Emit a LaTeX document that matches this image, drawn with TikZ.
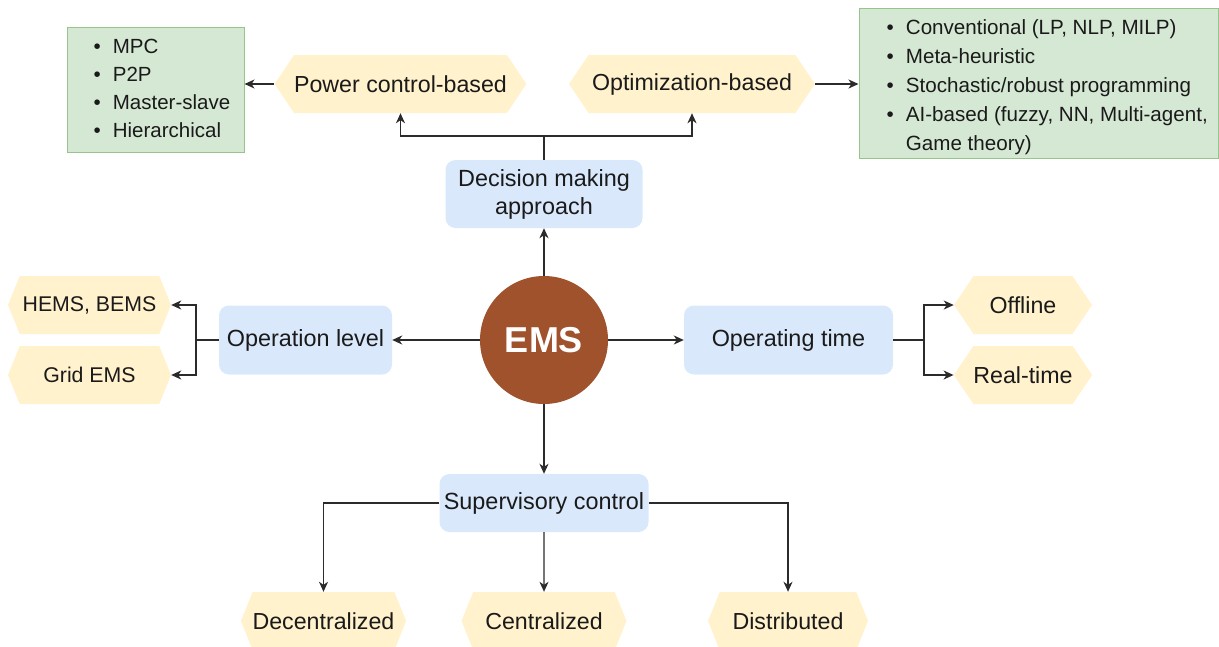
\documentclass[tikz,border=0pt]{standalone}
\usepackage{fontspec}
\setmainfont{Liberation Sans}
\usetikzlibrary{shapes.symbols,arrows.meta}
\definecolor{hexfill}{HTML}{FFF2CC}
\definecolor{boxfill}{HTML}{DAE8FC}
\definecolor{listfill}{HTML}{D5E8D4}
\definecolor{listline}{HTML}{97C48A}
\definecolor{emsfill}{HTML}{A0522D}
\definecolor{ink}{HTML}{1A1A1A}
\definecolor{wiregray}{HTML}{2B2B2B}
\tikzset{
  hexa/.style={signal,signal to=west and east,signal pointer angle=112,fill=hexfill,
    minimum height=58pt,inner sep=0pt,text=ink,font=\fontsize{23.2}{27}\selectfont},
  tighthexa/.style={hexa,signal pointer angle=136},
  cat/.style={rectangle,rounded corners=10pt,fill=boxfill,inner sep=0pt,text=ink,
    align=center,font=\fontsize{23.4}{28}\selectfont},
  listbox/.style={rectangle,fill=listfill,draw=listline,line width=1pt,inner sep=0pt},
  listtext/.style={anchor=west,inner sep=0pt,text=ink},
  wire/.style={draw=wiregray,line width=1.4pt},
  arr/.style={wire,-{Stealth[length=10pt,width=9pt,inset=3pt]}}
}
\begin{document}
\begin{tikzpicture}[x=1pt,y=-1pt]
\useasboundingbox (0,0) rectangle (1219,646);
\node[circle,fill=emsfill,minimum size=128pt,inner sep=0pt,text=white,font=\fontsize{36}{40}\selectfont\bfseries] (ems) at (544,340) {EMS};
\node[cat,minimum width=197pt,minimum height=68pt] (decision) at (544,194) {Decision making\\approach};
\node[cat,minimum width=173pt,minimum height=69pt] (oplevel) at (305.5,340) {Operation level};
\node[cat,minimum width=209pt,minimum height=69pt] (optime) at (788.5,340) {Operating time};
\node[cat,minimum width=209pt,minimum height=58pt] (superv) at (544,503) {Supervisory control};
\node[hexa,minimum width=243pt] (power) at (400.5,84) {Power control-based};
\node[hexa,minimum width=246pt] (optim) at (692,84) {Optimization-based};
\node[tighthexa,minimum width=163pt,font=\fontsize{21.3}{25}\selectfont] (hems) at (89.5,305) {HEMS, BEMS};
\node[tighthexa,minimum width=163pt,font=\fontsize{21.3}{25}\selectfont] (grid) at (89.5,375) {Grid EMS};
\node[hexa,minimum width=138pt] (offline) at (1023,305) {Offline};
\node[hexa,minimum width=138pt] (realtime) at (1023,375) {Real-time};
\node[tighthexa,minimum width=161pt] (decentral) at (323.5,621) {Decentralized};
\node[tighthexa,minimum width=165pt] (central) at (544,621) {Centralized};
\node[tighthexa,minimum width=160pt] (distrib) at (788,621) {Distributed};
\node[listbox,minimum width=177pt,minimum height=125pt] (powerlist) at (155.5,89.5) {};
\node[listtext,font=\fontsize{20.5}{28}\selectfont] (powertext) at ([xshift=27pt]powerlist.west) {%
  \begin{tabular}{@{}l@{\hspace{12pt}}l@{}}
  \textbullet & MPC\\ \textbullet & P2P\\ \textbullet & Master-slave\\ \textbullet & Hierarchical
  \end{tabular}};
\node[listbox,minimum width=359pt,minimum height=150pt] (optimlist) at (1038.5,83) {};
\node[listtext,font=\fontsize{20.6}{29}\selectfont] (optimtext) at ([xshift=28pt,yshift=-4pt]optimlist.west) {%
  \begin{tabular}{@{}l@{\hspace{12pt}}l@{}}
  \textbullet & Conventional (LP, NLP, MILP)\\ \textbullet & Meta-heuristic\\
  \textbullet & Stochastic/robust programming\\ \textbullet & AI-based (fuzzy, NN, Multi-agent,\\
   & Game theory)
  \end{tabular}};
\coordinate (dsplit) at (544,136);
\coordinate (osplit) at (196,340);
\coordinate (tsplit) at (924,340);
\draw[arr] (ems) -- (decision);
\draw[wire] (decision) -- (dsplit);
\draw[arr] (dsplit) -| (power);
\draw[arr] (dsplit) -| (optim);
\draw[arr] (power.west) -- (power.west -| powerlist.east);
\draw[arr] (optim.east) -- (optim.east -| optimlist.west);
\draw[arr] (ems) -- (oplevel);
\draw[wire] (oplevel) -- (osplit);
\draw[arr] (osplit) |- (hems);
\draw[arr] (osplit) |- (grid);
\draw[arr] (ems) -- (optime);
\draw[wire] (optime) -- (tsplit);
\draw[arr] (tsplit) |- (offline);
\draw[arr] (tsplit) |- (realtime);
\draw[arr] (ems) -- (superv);
\draw[arr] (superv.west) -| (decentral);
\draw[arr] (superv) -- (central);
\draw[arr] (superv.east) -| (distrib);
\end{tikzpicture}
\end{document}
